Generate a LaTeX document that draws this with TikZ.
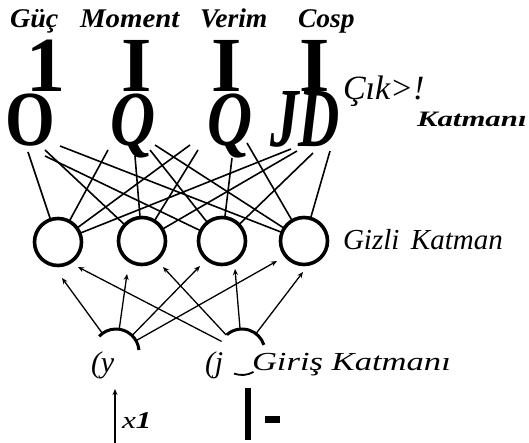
\documentclass[tikz,border=0pt]{standalone}
\usepackage{fontspec}
\setmainfont{Liberation Serif}
\usetikzlibrary{arrows.meta}
\newcommand\fsz[1]{\fontsize{#1}{#1}\selectfont}
\newcommand\wide[2]{\scalebox{#1}[1]{#2}}

\begin{document}
\begin{tikzpicture}[x=1pt,y=1pt,
  every node/.style={inner sep=0pt, outer sep=0pt},
  toplabel/.style={anchor=base west, font=\fsz{27}\bfseries\itshape},
  bigglyph/.style={anchor=base, font=\fsz{78}\bfseries},
  hidden/.style={circle, draw, line width=3.6pt, minimum size=47pt},
  inputnode/.style={circle, minimum size=46pt},
  inarc/.style={line width=3pt},
  wire/.style={line width=1.6pt},
  feed/.style={line width=1.3pt, -{Stealth[length=6pt,width=5pt]}},
  ]
\fill[white] (0,0) rectangle (529,-443);
\useasboundingbox (0,0) rectangle (529,-443);

% output labels
\node[toplabel] (lg) at (10,-28)  {\wide{1.04}{Güç}};
\node[toplabel] (lm) at (80,-28)  {\wide{1.07}{Moment}};
\node[toplabel] (lv) at (200,-28) {\wide{1.02}{Verim}};
\node[toplabel] (lc) at (298,-28) {\wide{1.02}{Cosp}};

% output neurons
\node[bigglyph] (t1) at (46,-92)  {1};
\node[bigglyph] (t2) at (137,-92) {I};
\node[bigglyph] (t3) at (227,-92) {I};
\node[bigglyph] (t4) at (315,-92) {I};
\node[bigglyph] (o1) at (30,-146)  {\wide{0.82}{O}};
\node[bigglyph] (o2) at (133,-146) {\wide{0.8}{\itshape Q}};
\node[bigglyph] (o3) at (230,-146) {\wide{0.8}{\itshape Q}};
\node[bigglyph] (o4) at (305,-147) {\wide{0.68}{\fsz{84}\itshape JD}};

\node[anchor=base west, font=\fsz{34}\itshape] (cik) at (343,-100) {Çık>!};
\node[anchor=base west, font=\fsz{22}\bfseries\itshape] (kat) at (417,-127) {\wide{1.4}{Katmanı}};

% hidden layer
\node[hidden] (h1) at (58,-242)  {};
\node[hidden] (h2) at (142,-241) {};
\node[hidden] (h3) at (222,-241) {};
\node[hidden] (h4) at (304,-241) {};
\node[anchor=base west, font=\fsz{29}\itshape] (gk) at (343,-250) {Gizli\hspace{0.4em}Katman};

% output-hidden wiring
\draw[wire] ([shift={(-2,-6)}]o1.base) -- (h1);
\draw[wire] ([shift={(15,-4)}]o1.base) -- (h2);
\draw[wire] ([shift={(15,-10)}]o1.base) -- (h3);
\draw[wire] ([shift={(30,0)}]o1.base) -- (h4);
\draw[wire] ([shift={(-25,-4)}]o2.base) -- (h1);
\draw[wire] ([shift={(2,-10)}]o2.base) -- (h2);
\draw[wire] ([shift={(17,-4)}]o2.base) -- (h3);
\draw[wire] ([shift={(22,1)}]o2.base) -- (h4);
\draw[wire] ([shift={(-40,1)}]o3.base) -- (h1);
\draw[wire] ([shift={(-32,-4)}]o3.base) -- (h2);
\draw[wire] ([shift={(2,-12)}]o3.base) -- (h3);
\draw[wire] ([shift={(17,3)}]o3.base) -- (h4);
\draw[wire] ([shift={(-14,-2)}]o4.base) -- (h1);
\draw[wire] ([shift={(-8,-4)}]o4.base) -- (h2);
\draw[wire] ([shift={(8,-6)}]o4.base) -- (h3);
\draw[wire] ([shift={(25,-4)}]o4.base) -- (h4);

% input layer
\node[inputnode] (in1) at (116,-352) {};
\node[inputnode] (in2) at (242,-352) {};
\draw[inarc] (in1.137) arc[start angle=137, end angle=5, radius=23pt];
\draw[inarc] (in2.131) arc[start angle=131, end angle=18, radius=23pt];
\draw[line width=1.8pt] (in2.250) arc[start angle=250, end angle=300, radius=23pt];
\node[anchor=base west, font=\fsz{30}\itshape] (ly) at (91,-372) {(y};
\node[anchor=base west, font=\fsz{30}\itshape] (lj) at (205,-372) {(j};
\node[anchor=base west, font=\fsz{26}\itshape] (gir) at (252,-370) {\wide{1.33}{Giriş Katmanı}};

% input-hidden wiring
\draw[feed] (in1) -- ([shift={(4,-36)}]h1.center);
\draw[feed] (in1) -- ([shift={(-15,-33)}]h2.center);
\draw[feed] (in1) -- ([shift={(-22,-25)}]h3.center);
\draw[feed] (in1) -- ([shift={(-27,-20)}]h4.center);
\draw[feed] (in2) -- ([shift={(20,-25)}]h1.center);
\draw[feed] (in2) -- ([shift={(21,-26)}]h2.center);
\draw[feed] (in2) -- ([shift={(13,-28)}]h3.center);
\draw[feed] (in2) -- ([shift={(-1,-31)}]h4.center);

% input signals
\coordinate (a0) at (115,-443);
\coordinate (a1) at (115,-389);
\draw[line width=1.3pt, -{Stealth[length=6pt,width=5pt]}] (a0) -- (a1);
\node[anchor=base west, font=\fsz{24}] (x1) at (122,-428) {\wide{1.3}{\textit{x}\textbf{\textit{1}}}};
\fill (245,-388) rectangle (251,-440);
\fill (265,-416) rectangle (280,-423);
\end{tikzpicture}
\end{document}
